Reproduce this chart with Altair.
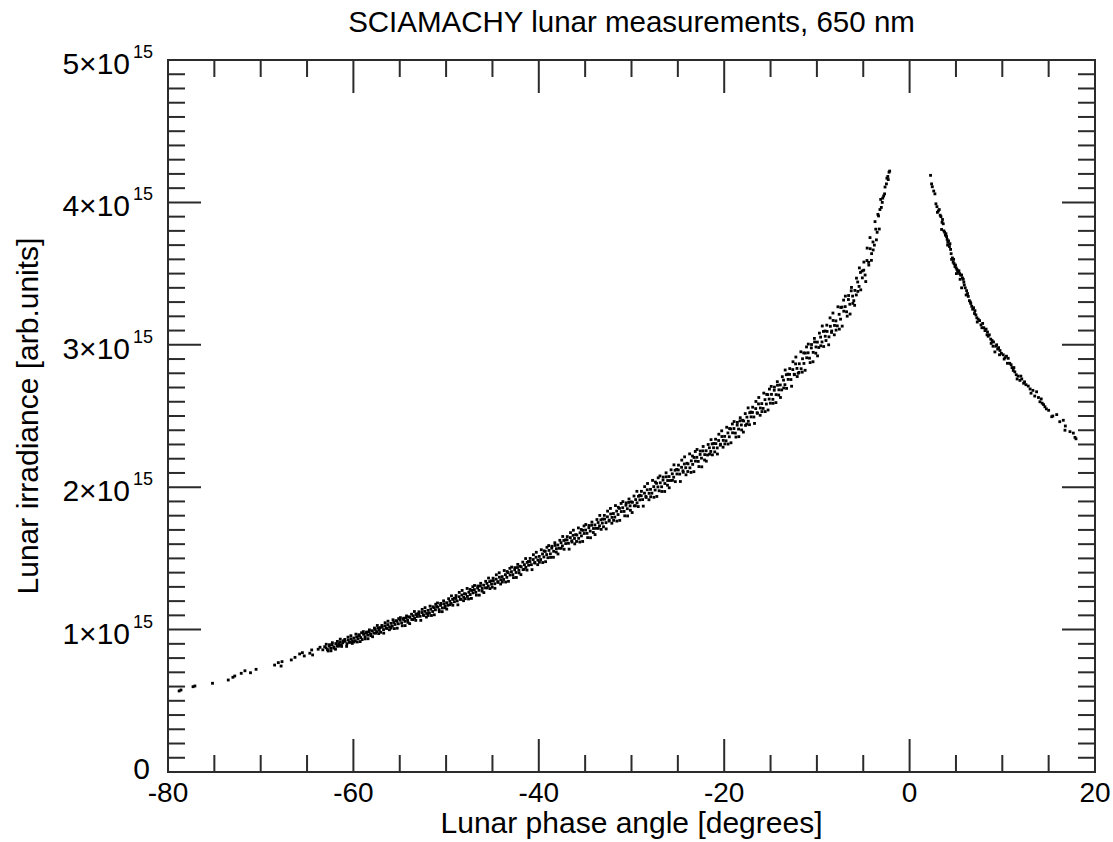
import altair as alt
import pandas as pd

FONT = "Liberation Sans"
INK = "#2b2b2b"

# Lunar phase angle [deg], lunar irradiance [10^15 arb. units]
left_tail = [(-78.8, 0.569), (-78.6, 0.576), (-77.3, 0.599), (-77.1, 0.604), (-75.2, 0.623),
             (-73.5, 0.646), (-73.0, 0.665), (-72.8, 0.674), (-72.1, 0.693), (-71.7, 0.711),
             (-71.1, 0.697), (-70.5, 0.721), (-68.5, 0.751), (-68.1, 0.768), (-67.8, 0.744),
             (-67.7, 0.775), (-66.7, 0.787), (-66.3, 0.805), (-65.8, 0.829), (-65.5, 0.838),
             (-65.3, 0.815), (-64.7, 0.834), (-64.5, 0.857), (-64.4, 0.822), (-63.8, 0.862),
             (-63.6, 0.876), (-63.3, 0.858), (-63.1, 0.880)]

left_core = [
    (-62.95, 0.872), (-62.8, 0.860), (-62.6, 0.884), (-62.45, 0.869), (-62.3, 0.893), (-62.1, 0.878),
    (-61.9, 0.902), (-61.75, 0.884), (-61.6, 0.899), (-61.45, 0.912), (-61.3, 0.893), (-61.15, 0.907), (-61.05, 0.921),
    (-60.9, 0.918), (-60.7, 0.901), (-60.55, 0.927), (-60.4, 0.912), (-60.25, 0.935), (-60.1, 0.921),
    (-59.95, 0.941), (-59.8, 0.922), (-59.65, 0.948), (-59.5, 0.936), (-59.35, 0.958), (-59.2, 0.944), (-59.05, 0.930),
    (-58.9, 0.967), (-58.75, 0.950), (-58.6, 0.975), (-58.45, 0.961), (-58.3, 0.984), (-58.15, 0.969),
    (-57.95, 0.992), (-57.8, 0.975), (-57.65, 1.001), (-57.5, 0.986), (-57.35, 1.010), (-57.2, 0.995), (-57.05, 0.981),
    (-56.9, 1.018), (-56.75, 1.000), (-56.6, 1.026), (-56.45, 1.012), (-56.3, 1.035), (-56.1, 1.020),
    (-55.95, 1.044), (-55.8, 1.025), (-55.65, 1.050), (-55.5, 1.036), (-55.3, 1.058), (-55.15, 1.041),
    (-54.95, 1.066), (-54.8, 1.047), (-54.6, 1.072), (-54.45, 1.058), (-54.3, 1.082), (-54.15, 1.065), (-54.02, 1.090),
    (-53.9, 1.086), (-53.7, 1.071), (-53.55, 1.097), (-53.4, 1.081), (-53.25, 1.106), (-53.1, 1.092),
    (-52.95, 1.111), (-52.8, 1.094), (-52.6, 1.120), (-52.45, 1.104), (-52.3, 1.128), (-52.1, 1.113),
    (-51.95, 1.135), (-51.8, 1.117), (-51.65, 1.143), (-51.45, 1.127), (-51.3, 1.154), (-51.15, 1.139), (-51.02, 1.162),
    (-50.9, 1.158), (-50.75, 1.140), (-50.6, 1.170), (-50.4, 1.152), (-50.25, 1.181), (-50.1, 1.166),
    (-49.95, 1.189), (-49.8, 1.171), (-49.6, 1.199), (-49.45, 1.184), (-49.3, 1.212), (-49.1, 1.196),
    (-48.95, 1.219), (-48.8, 1.201), (-48.6, 1.231), (-48.45, 1.214), (-48.3, 1.243), (-48.1, 1.226), (-48.02, 1.252),
    (-47.9, 1.250), (-47.7, 1.233), (-47.55, 1.262), (-47.4, 1.246), (-47.25, 1.275), (-47.1, 1.258),
    (-46.95, 1.281), (-46.8, 1.262), (-46.6, 1.292), (-46.45, 1.276), (-46.3, 1.306), (-46.1, 1.289),
    (-45.95, 1.312), (-45.75, 1.293), (-45.6, 1.324), (-45.45, 1.306), (-45.3, 1.337), (-45.1, 1.319), (-45.02, 1.298),
    (-44.9, 1.343), (-44.75, 1.322), (-44.6, 1.354), (-44.4, 1.337), (-44.25, 1.368), (-44.1, 1.350),
    (-43.95, 1.372), (-43.8, 1.352), (-43.6, 1.386), (-43.45, 1.367), (-43.3, 1.400), (-43.1, 1.383),
    (-42.95, 1.407), (-42.8, 1.386), (-42.6, 1.420), (-42.45, 1.401), (-42.3, 1.436), (-42.15, 1.417), (-42.02, 1.445),
    (-41.9, 1.441), (-41.7, 1.421), (-41.55, 1.456), (-41.4, 1.437), (-41.25, 1.472), (-41.1, 1.452),
    (-40.95, 1.478), (-40.8, 1.456), (-40.6, 1.492), (-40.45, 1.471), (-40.3, 1.508), (-40.1, 1.488),
    (-39.95, 1.514), (-39.8, 1.492), (-39.6, 1.531), (-39.45, 1.510), (-39.3, 1.549), (-39.15, 1.527), (-39.02, 1.505),
    (-38.9, 1.556), (-38.75, 1.532), (-38.6, 1.572), (-38.4, 1.550), (-38.25, 1.591), (-38.1, 1.568),
    (-37.95, 1.594), (-37.8, 1.571), (-37.6, 1.610), (-37.45, 1.588), (-37.3, 1.626), (-37.1, 1.604),
    (-36.95, 1.630), (-36.8, 1.606), (-36.6, 1.646), (-36.45, 1.624), (-36.3, 1.662), (-36.15, 1.640), (-36.02, 1.667),
    (-35.9, 1.664), (-35.7, 1.641), (-35.55, 1.680), (-35.4, 1.658), (-35.25, 1.697), (-35.1, 1.675),
    (-34.95, 1.699), (-34.8, 1.676), (-34.6, 1.715), (-34.45, 1.692), (-34.3, 1.733), (-34.1, 1.710),
    (-33.95, 1.735), (-33.8, 1.711), (-33.6, 1.752), (-33.45, 1.729), (-33.3, 1.771), (-33.15, 1.748), (-33.02, 1.722),
    (-32.9, 1.776), (-32.75, 1.751), (-32.6, 1.792), (-32.4, 1.769), (-32.25, 1.812), (-32.1, 1.788),
    (-31.95, 1.815), (-31.8, 1.790), (-31.6, 1.832), (-31.45, 1.808), (-31.3, 1.851), (-31.1, 1.829),
    (-30.95, 1.856), (-30.8, 1.830), (-30.6, 1.873), (-30.45, 1.849), (-30.3, 1.893), (-30.15, 1.869), (-30.02, 1.897),
    (-29.9, 1.894), (-29.7, 1.869), (-29.55, 1.913), (-29.4, 1.890), (-29.25, 1.936), (-29.1, 1.911),
    (-28.95, 1.940), (-28.8, 1.913), (-28.6, 1.958), (-28.45, 1.935), (-28.3, 1.982), (-28.1, 1.957),
    (-27.95, 1.985), (-27.8, 1.958), (-27.6, 2.004), (-27.45, 1.980), (-27.3, 2.027), (-27.15, 2.002), (-27.02, 1.975),
    (-26.9, 2.031), (-26.75, 2.003), (-26.6, 2.050), (-26.4, 2.026), (-26.25, 2.073), (-26.1, 2.047),
    (-25.95, 2.075), (-25.8, 2.047), (-25.6, 2.094), (-25.45, 2.070), (-25.3, 2.119), (-25.1, 2.093),
    (-24.95, 2.121), (-24.8, 2.092), (-24.6, 2.140), (-24.45, 2.115), (-24.3, 2.163), (-24.15, 2.137), (-24.02, 2.168),
    (-23.9, 2.164), (-23.7, 2.136), (-23.55, 2.185), (-23.4, 2.160), (-23.25, 2.209), (-23.1, 2.183),
    (-22.95, 2.210), (-22.8, 2.181), (-22.6, 2.230), (-22.45, 2.204), (-22.3, 2.255), (-22.1, 2.229),
    (-21.95, 2.256), (-21.8, 2.226), (-21.6, 2.277), (-21.45, 2.251), (-21.3, 2.304), (-21.15, 2.277), (-21.02, 2.248),
    (-20.9, 2.306), (-20.75, 2.276), (-20.6, 2.328), (-20.4, 2.302), (-20.25, 2.356), (-20.1, 2.329),
    (-19.95, 2.357), (-19.8, 2.326), (-19.6, 2.381), (-19.45, 2.354), (-19.3, 2.409), (-19.1, 2.382),
    (-18.95, 2.412), (-18.8, 2.380), (-18.6, 2.436), (-18.45, 2.408), (-18.3, 2.466), (-18.15, 2.437), (-18.02, 2.470),
    (-17.9, 2.465), (-17.7, 2.434), (-17.55, 2.492), (-17.4, 2.463), (-17.25, 2.523), (-17.1, 2.494),
    (-16.95, 2.525), (-16.8, 2.493), (-16.6, 2.552), (-16.45, 2.523), (-16.3, 2.585), (-16.1, 2.556),
    (-15.95, 2.587), (-15.8, 2.553), (-15.6, 2.615), (-15.45, 2.584), (-15.3, 2.650), (-15.15, 2.619), (-15.02, 2.590),
    (-14.9, 2.652), (-14.75, 2.617), (-14.6, 2.681), (-14.4, 2.650), (-14.25, 2.716), (-14.1, 2.684),
    (-13.95, 2.718), (-13.8, 2.683), (-13.6, 2.752), (-13.45, 2.720), (-13.3, 2.790), (-13.1, 2.757),
    (-12.95, 2.792), (-12.8, 2.756), (-12.6, 2.826), (-12.45, 2.793), (-12.3, 2.866), (-12.15, 2.834), (-12.02, 2.800),
    (-11.9, 2.867), (-11.7, 2.832), (-11.55, 2.902), (-11.4, 2.869), (-11.25, 2.942), (-11.1, 2.909),
    (-10.95, 2.944), (-10.8, 2.906), (-10.6, 2.978), (-10.4, 2.947), (-10.25, 3.020), (-10.1, 2.985),
    (-9.95, 3.019), (-9.8, 2.981), (-9.6, 3.054), (-9.45, 3.020), (-9.3, 3.094), (-9.1, 3.060), (-9.02, 3.030),
    (-8.9, 3.094), (-8.7, 3.056), (-8.55, 3.130), (-8.4, 3.097), (-8.25, 3.171), (-8.1, 3.136),
    (-7.95, 3.168), (-7.8, 3.133), (-7.6, 3.214), (-7.45, 3.180), (-7.3, 3.265), (-7.1, 3.236),
    (-6.95, 3.268), (-6.8, 3.232), (-6.6, 3.318), (-6.45, 3.285), (-6.3, 3.379), (-6.15, 3.342), (-6.02, 3.310),
    (-5.9, 3.382), (-5.75, 3.350), (-5.6, 3.441), (-5.45, 3.410), (-5.3, 3.508), (-5.1, 3.470),
    (-4.95, 3.524), (-4.8, 3.490), (-4.6, 3.592), (-4.4, 3.560), (-4.25, 3.675), (-4.1, 3.640),
    (-3.95, 3.722), (-3.8, 3.700), (-3.65, 3.812), (-3.5, 3.790), (-3.35, 3.905), (-3.2, 3.950), (-3.05, 3.965),
    (-2.95, 4.000), (-2.8, 4.045), (-2.65, 4.108), (-2.5, 4.130), (-2.35, 4.182), (-2.22, 4.212),
]

left_spread = [
    (-62.93, 0.897), (-62.73, 0.850), (-62.58, 0.894), (-62.42, 0.851), (-62.27, 0.908), (-62.12, 0.870),
    (-61.93, 0.862), (-61.73, 0.917), (-61.58, 0.884), (-61.42, 0.933), (-61.27, 0.882), (-61.12, 0.919),
    (-60.93, 0.931), (-60.73, 0.882), (-60.58, 0.947), (-60.42, 0.911), (-60.27, 0.957), (-60.12, 0.903),
    (-59.93, 0.913), (-59.73, 0.968), (-59.58, 0.913), (-59.42, 0.964), (-59.27, 0.916), (-59.12, 0.978),
    (-58.93, 0.986), (-58.73, 0.935), (-58.58, 0.983), (-58.42, 0.936), (-58.27, 0.998), (-58.12, 0.958),
    (-57.93, 0.950), (-57.73, 1.011), (-57.58, 0.975), (-57.42, 1.029), (-57.27, 0.972), (-57.12, 1.014),
    (-56.93, 1.029), (-56.73, 0.975), (-56.58, 1.048), (-56.42, 1.008), (-56.27, 1.059), (-56.12, 0.999),
    (-55.93, 1.010), (-55.73, 1.069), (-55.58, 1.007), (-55.42, 1.063), (-55.27, 1.010), (-55.12, 1.077),
    (-54.93, 1.084), (-54.73, 1.027), (-54.58, 1.080), (-54.42, 1.028), (-54.27, 1.096), (-54.12, 1.051),
    (-53.93, 1.042), (-53.73, 1.108), (-53.58, 1.070), (-53.42, 1.127), (-53.27, 1.065), (-53.12, 1.110),
    (-52.93, 1.125), (-52.73, 1.065), (-52.58, 1.142), (-52.42, 1.099), (-52.27, 1.154), (-52.12, 1.088),
    (-51.93, 1.099), (-51.73, 1.165), (-51.58, 1.099), (-51.42, 1.160), (-51.27, 1.104), (-51.12, 1.178),
    (-50.93, 1.187), (-50.73, 1.126), (-50.58, 1.184), (-50.42, 1.126), (-50.27, 1.202), (-50.12, 1.153),
    (-49.93, 1.144), (-49.73, 1.217), (-49.58, 1.175), (-49.42, 1.237), (-49.27, 1.171), (-49.12, 1.220),
    (-48.93, 1.239), (-48.73, 1.174), (-48.58, 1.261), (-48.42, 1.212), (-48.27, 1.275), (-48.12, 1.203),
    (-47.93, 1.217), (-47.73, 1.289), (-47.58, 1.215), (-47.42, 1.282), (-47.27, 1.219), (-47.12, 1.301),
    (-46.93, 1.310), (-46.73, 1.242), (-46.58, 1.306), (-46.42, 1.242), (-46.27, 1.325), (-46.12, 1.270),
    (-45.93, 1.260), (-45.73, 1.339), (-45.58, 1.293), (-45.42, 1.362), (-45.27, 1.288), (-45.12, 1.342),
    (-44.93, 1.361), (-44.73, 1.290), (-44.58, 1.385), (-44.42, 1.331), (-44.27, 1.399), (-44.12, 1.320),
    (-43.93, 1.334), (-43.73, 1.415), (-43.58, 1.334), (-43.42, 1.408), (-43.27, 1.339), (-43.12, 1.430),
    (-42.93, 1.439), (-42.73, 1.365), (-42.58, 1.435), (-42.42, 1.366), (-42.27, 1.458), (-42.12, 1.398),
    (-41.93, 1.386), (-41.73, 1.474), (-41.58, 1.423), (-41.42, 1.499), (-41.27, 1.418), (-41.12, 1.478),
    (-40.93, 1.500), (-40.73, 1.421), (-40.58, 1.526), (-40.42, 1.467), (-40.27, 1.543), (-40.12, 1.456),
    (-39.93, 1.473), (-39.73, 1.561), (-39.58, 1.471), (-39.42, 1.553), (-39.27, 1.477), (-39.12, 1.578),
    (-38.93, 1.590), (-38.73, 1.507), (-38.58, 1.585), (-38.42, 1.508), (-38.27, 1.610), (-38.12, 1.544),
    (-37.93, 1.531), (-37.73, 1.627), (-37.58, 1.571), (-37.42, 1.654), (-37.27, 1.564), (-37.12, 1.630),
    (-36.93, 1.653), (-36.73, 1.565), (-36.58, 1.681), (-36.42, 1.615), (-36.27, 1.698), (-36.12, 1.602),
    (-35.93, 1.619), (-35.73, 1.714), (-35.58, 1.615), (-35.42, 1.703), (-35.27, 1.619), (-35.12, 1.728),
    (-34.93, 1.738), (-34.73, 1.646), (-34.58, 1.731), (-34.42, 1.645), (-34.27, 1.755), (-34.12, 1.682),
    (-33.93, 1.667), (-33.73, 1.773), (-33.58, 1.711), (-33.42, 1.802), (-33.27, 1.704), (-33.12, 1.776),
    (-32.93, 1.802), (-32.73, 1.707), (-32.58, 1.832), (-32.42, 1.762), (-32.27, 1.851), (-32.12, 1.747),
    (-31.93, 1.767), (-31.73, 1.871), (-31.58, 1.762), (-31.42, 1.859), (-31.27, 1.767), (-31.12, 1.886),
    (-30.93, 1.899), (-30.73, 1.799), (-30.58, 1.890), (-30.42, 1.798), (-30.27, 1.917), (-30.12, 1.838),
    (-29.93, 1.822), (-29.73, 1.938), (-29.58, 1.870), (-29.42, 1.971), (-29.27, 1.864), (-29.12, 1.943),
    (-28.93, 1.971), (-28.73, 1.867), (-28.58, 2.004), (-28.42, 1.928), (-28.27, 2.026), (-28.12, 1.912),
    (-27.93, 1.933), (-27.73, 2.048), (-27.58, 1.929), (-27.42, 2.036), (-27.27, 1.935), (-27.12, 2.066),
    (-26.93, 2.079), (-26.73, 1.970), (-26.58, 2.071), (-26.42, 1.970), (-26.27, 2.101), (-26.12, 2.014),
    (-25.93, 1.996), (-25.73, 2.122), (-25.58, 2.048), (-25.42, 2.157), (-25.27, 2.039), (-25.12, 2.125),
    (-24.93, 2.155), (-24.73, 2.040), (-24.58, 2.190), (-24.42, 2.105), (-24.27, 2.213), (-24.12, 2.087),
    (-23.93, 2.110), (-23.73, 2.234), (-23.58, 2.104), (-23.42, 2.219), (-23.27, 2.109), (-23.12, 2.251),
    (-22.93, 2.265), (-22.73, 2.145), (-22.58, 2.254), (-22.42, 2.143), (-22.27, 2.286), (-22.12, 2.191),
    (-21.93, 2.183), (-21.73, 2.300), (-21.58, 2.232), (-21.42, 2.334), (-21.27, 2.227), (-21.12, 2.307),
    (-20.93, 2.337), (-20.73, 2.233), (-20.58, 2.372), (-20.42, 2.295), (-20.27, 2.396), (-20.12, 2.281),
    (-19.93, 2.304), (-19.73, 2.421), (-19.58, 2.303), (-19.42, 2.412), (-19.27, 2.312), (-19.12, 2.444),
    (-18.93, 2.461), (-18.73, 2.352), (-18.58, 2.455), (-18.42, 2.355), (-18.27, 2.488), (-18.12, 2.402),
    (-17.93, 2.387), (-17.73, 2.517), (-17.58, 2.443), (-17.42, 2.557), (-17.27, 2.439), (-17.12, 2.528),
    (-16.93, 2.562), (-16.73, 2.448), (-16.58, 2.602), (-16.42, 2.519), (-16.27, 2.630), (-16.12, 2.505),
    (-15.93, 2.531), (-15.73, 2.661), (-15.58, 2.531), (-15.42, 2.652), (-15.27, 2.542), (-15.12, 2.689),
    (-14.93, 2.708), (-14.73, 2.589), (-14.58, 2.703), (-14.42, 2.594), (-14.27, 2.741), (-14.12, 2.647),
    (-13.93, 2.630), (-13.73, 2.776), (-13.58, 2.697), (-13.42, 2.823), (-13.27, 2.694), (-13.12, 2.794),
    (-12.93, 2.833), (-12.73, 2.709), (-12.58, 2.881), (-12.42, 2.790), (-12.27, 2.914), (-12.12, 2.777),
    (-11.93, 2.806), (-11.73, 2.951), (-11.58, 2.808), (-11.42, 2.943), (-11.27, 2.821), (-11.12, 2.985),
    (-10.93, 3.005), (-10.73, 2.875), (-10.58, 3.002), (-10.42, 2.881), (-10.27, 3.045), (-10.12, 2.941),
    (-9.93, 2.922), (-9.73, 3.082), (-9.58, 2.993), (-9.42, 3.132), (-9.27, 2.988), (-9.12, 3.097),
    (-8.93, 3.138), (-8.73, 3.000), (-8.58, 3.189), (-8.42, 3.087), (-8.27, 3.223), (-8.12, 3.070),
    (-7.93, 3.103), (-7.73, 3.267), (-7.58, 3.110), (-7.42, 3.262), (-7.27, 3.131), (-7.12, 3.314),
    (-6.93, 3.342), (-6.73, 3.201), (-6.58, 3.346), (-6.42, 3.216), (-6.27, 3.403), (-6.12, 3.291),
    (-5.93, 3.277), (-5.73, 3.468), (-5.58, 3.375), (-5.42, 3.540), (-5.27, 3.386), (-5.12, 3.518),
    (-4.93, 3.581), (-4.73, 3.444), (-4.58, 3.679), (-4.42, 3.579), (-4.27, 3.753), (-4.12, 3.593),
    (-3.93, 3.666), (-3.73, 3.865), (-3.58, 3.737), (-3.42, 3.916), (-3.27, 3.813), (-3.12, 4.021),
    (-2.9, 4.030), (-2.7, 4.060), (-2.45, 4.170), (-2.3, 4.160), (-2.15, 4.220),
]

right_branch = [
    (2.26, 4.19), (2.37, 4.13), (2.45, 4.11), (2.6, 4.08), (2.73, 4.06), (2.84, 3.99), (2.95, 3.97),
    (3.1, 3.94), (3.2, 3.95), (3.3, 3.91), (3.38, 3.90), (3.45, 3.81), (3.5, 3.86), (3.63, 3.85),
    (3.7, 3.80), (3.78, 3.79), (3.86, 3.77), (3.92, 3.78), (3.99, 3.76), (4.05, 3.74), (4.12, 3.72),
    (4.2, 3.73), (4.3, 3.69), (4.42, 3.67), (4.48, 3.64), (4.53, 3.60), (4.62, 3.61), (4.7, 3.58),
    (4.8, 3.57), (4.89, 3.55), (4.95, 3.56), (5.02, 3.54), (5.1, 3.53), (5.18, 3.52), (5.25, 3.51),
    (5.32, 3.52), (5.4, 3.50), (5.5, 3.49), (5.61, 3.49), (5.7, 3.47), (5.79, 3.46), (5.61, 3.40),
    (5.9, 3.42), (6.0, 3.40), (6.15, 3.38), (6.25, 3.36), (6.33, 3.34), (6.45, 3.31), (6.55, 3.30),
    (6.7, 3.27), (6.8, 3.25), (6.9, 3.26), (7.0, 3.22), (7.15, 3.21), (7.25, 3.19), (7.4, 3.18),
    (7.55, 3.17), (7.7, 3.14), (7.88, 3.15), (8.0, 3.12), (8.13, 3.10), (8.25, 3.11), (8.35, 3.07),
    (8.48, 3.06), (8.6, 3.07), (8.75, 3.04), (8.9, 3.03), (9.05, 3.02), (9.2, 2.95), (9.3, 2.99),
    (9.39, 3.00), (9.5, 2.97), (9.6, 2.98), (9.75, 2.96), (9.9, 2.94), (10.1, 2.93), (10.3, 2.91),
    (10.45, 2.92), (10.64, 2.905), (10.8, 2.87), (10.95, 2.86), (11.05, 2.84), (11.18, 2.82),
    (11.35, 2.81), (11.5, 2.79), (11.7, 2.78), (11.9, 2.75), (12.1, 2.76), (12.3, 2.73), (12.55, 2.72),
    (12.8, 2.71), (13.0, 2.69), (13.3, 2.68), (13.7, 2.67), (13.9, 2.63), (14.06, 2.60), (14.3, 2.59),
    (14.6, 2.565), (14.75, 2.55), (15.33, 2.495), (15.45, 2.50), (15.87, 2.51), (16.58, 2.47),
    (16.76, 2.40), (16.8, 2.43), (17.66, 2.38), (17.84, 2.35), (17.95, 2.34),
    (3.0, 3.93), (3.55, 3.88), (4.1, 3.70), (4.35, 3.71), (4.75, 3.60), (5.05, 3.50), (5.45, 3.46),
    (5.85, 3.44), (6.1, 3.35), (6.6, 3.29), (7.05, 3.24), (7.3, 3.16), (7.8, 3.12), (8.4, 3.09),
    (8.8, 3.01), (9.0, 2.99), (9.7, 2.93), (10.2, 2.90), (10.55, 2.87), (11.25, 2.84), (11.6, 2.76),
    (12.0, 2.78), (12.4, 2.74), (13.1, 2.66), (13.5, 2.64), (14.2, 2.62), (14.45, 2.58), (15.0, 2.54),
    (16.2, 2.46), (17.3, 2.39),
]

x_major = [-80, -60, -40, -20, 0, 20]
x_minor = [-75, -70, -65, -55, -50, -45, -35, -30, -25, -15, -10, -5, 5, 10, 15]
x_labels = ["-80", "-60", "-40", "-20", "0", "20"]
y_major = [0, 1, 2, 3, 4, 5]
y_minor = [v / 10 for v in range(1, 50) if v % 10]
y_label_vals = [1, 2, 3, 4, 5]
y_label_main = ["1×10", "2×10", "3×10", "4×10", "5×10"]
y_label_exp = ["15", "15", "15", "15", "15"]

title_text = "SCIAMACHY lunar measurements, 650 nm"
x_title = "Lunar phase angle [degrees]"
y_title = "Lunar irradiance [arb.units]"

W, H = 927, 712
MAJ, MIN = 33, 17

rows = left_tail + left_core + left_spread + right_branch
df = pd.DataFrame(rows, columns=["phase", "irr"])

xs = alt.Scale(domain=[-80, 20], nice=False, zero=False)
ys = alt.Scale(domain=[0, 5], nice=False, zero=False)

points = alt.Chart(df).mark_square(size=8, color="black", opacity=1).encode(
    x=alt.X("phase:Q", scale=xs, axis=None),
    y=alt.Y("irr:Q", scale=ys, axis=None),
)


def xticks(vals, y0, y1):
    return alt.Chart(pd.DataFrame({"t": vals})).mark_rule(color=INK, strokeWidth=2).encode(
        x=alt.X("t:Q", scale=xs, axis=None), y=alt.value(y0), y2=alt.value(y1))


def yticks(vals, x0, x1):
    return alt.Chart(pd.DataFrame({"t": vals})).mark_rule(color=INK, strokeWidth=2).encode(
        y=alt.Y("t:Q", scale=ys, axis=None), x=alt.value(x0), x2=alt.value(x1))


tick_layers = [
    xticks(x_major, H, H - MAJ), xticks(x_minor, H, H - MIN),
    xticks(x_major, 0, MAJ), xticks(x_minor, 0, MIN),
    yticks(y_major, 0, MAJ), yticks(y_minor, 0, MIN),
    yticks(y_major, W, W - MAJ), yticks(y_minor, W, W - MIN),
]

xlab = alt.Chart(pd.DataFrame({"v": x_major, "t": x_labels})).mark_text(
    align="center", baseline="alphabetic", fontSize=28, font=FONT, color="black").encode(
    x=alt.X("v:Q", scale=xs, axis=None), y=alt.value(H + 30), text="t:N")

ylab_df = pd.DataFrame({"v": y_label_vals, "m": y_label_main, "e": y_label_exp})
ylab_main = alt.Chart(ylab_df).mark_text(align="right", baseline="alphabetic", fontSize=30,
                                         font=FONT, color="black", dy=14).encode(
    y=alt.Y("v:Q", scale=ys, axis=None), x=alt.value(-38), text="m:N")
ylab_exp = alt.Chart(ylab_df).mark_text(align="left", baseline="alphabetic", fontSize=18,
                                        font=FONT, color="black", dy=-2).encode(
    y=alt.Y("v:Q", scale=ys, axis=None), x=alt.value(-35), text="e:N")
ylab_zero = alt.Chart(pd.DataFrame({"v": [0], "m": ["0"]})).mark_text(
    align="right", baseline="alphabetic", fontSize=30, font=FONT, color="black", dy=7).encode(
    y=alt.Y("v:Q", scale=ys, axis=None), x=alt.value(-18), text="m:N")

title_layer = alt.Chart(pd.DataFrame({"t": [title_text]})).mark_text(
    align="center", baseline="alphabetic", fontSize=29.5, font=FONT, color="black").encode(
    x=alt.value(W / 2), y=alt.value(-28.5), text="t:N")
xtitle_layer = alt.Chart(pd.DataFrame({"t": [x_title]})).mark_text(
    align="center", baseline="alphabetic", fontSize=30, font=FONT, color="black").encode(
    x=alt.value(W / 2), y=alt.value(773), text="t:N")
ytitle_layer = alt.Chart(pd.DataFrame({"t": [y_title]})).mark_text(
    align="center", baseline="middle", fontSize=30, font=FONT, color="black", angle=270).encode(
    x=alt.value(-139), y=alt.value(H / 2), text="t:N")

chart = alt.layer(points, *tick_layers, xlab, ylab_main, ylab_exp, ylab_zero,
                  title_layer, xtitle_layer, ytitle_layer).properties(
    width=W, height=H,
    autosize=alt.AutoSizeParams(type="none"),
    padding={"left": 168, "top": 60, "right": 18, "bottom": 70},
    background="white",
).configure_view(stroke=INK, strokeWidth=2)

chart.save("out.html", embed_options={"renderer": "svg", "actions": False})
